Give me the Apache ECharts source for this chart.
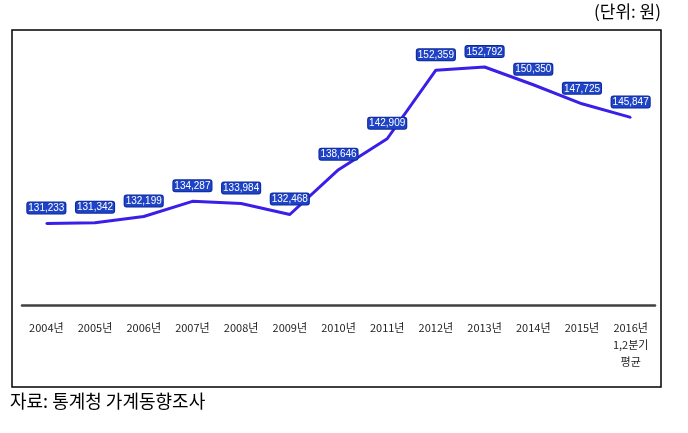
<!DOCTYPE html>
<html>
<head>
<meta charset="utf-8">
<script src="https://cdn.jsdelivr.net/npm/echarts@6/dist/echarts.min.js"></script>
<style>
  html, body { margin: 0; padding: 0; background: #fff; }
  #chart { width: 688px; height: 433px; }
</style>
</head>
<body>
<div id="chart"></div>
<script>
const years = ['2004년', '2005년', '2006년', '2007년', '2008년', '2009년', '2010년',
  '2011년', '2012년', '2013년', '2014년', '2015년', '2016년\n1,2분기\n평균']
const spending = [131233, 131342, 132199, 134287, 133984, 132468, 138646,
  142909, 152359, 152792, 150350, 147725, 145847]

const chart = echarts.init(document.getElementById('chart'))

chart.setOption({
  animation: false,
  backgroundColor: '#fff',
  grid: { left: 22, right: 33, top: 51, bottom: 128 },
  graphic: [
    {
      type: 'rect',
      shape: { x: 12, y: 30, width: 649, height: 357 },
      style: { fill: 'none', stroke: '#000', lineWidth: 1.5 }
    },
    {
      type: 'text',
      right: 27, top: 3,
      style: { text: '(단위: 원)', font: '17px "Noto Sans CJK KR"', fill: '#000' }
    },
    {
      type: 'text',
      left: 10, top: 392,
      style: { text: '자료: 통계청 가계동향조사', font: '18px "Noto Sans CJK KR"', fill: '#000' }
    }
  ],
  xAxis: {
    type: 'category',
    data: years,
    axisLine: { lineStyle: { color: '#404040', width: 2.5 } },
    axisTick: { show: false },
    axisLabel: {
      margin: 14,
      fontSize: 11,
      lineHeight: 17,
      color: '#222',
      fontFamily: '"Noto Sans CJK KR"',
      verticalAlign: 'top'
    }
  },
  yAxis: {
    type: 'value',
    min: 120000,
    max: 155000,
    show: false,
    splitLine: { show: false }
  },
  series: [{
    type: 'line',
    data: spending,
    symbol: 'circle',
    symbolSize: 2,
    itemStyle: { color: '#3a1fe8' },
    lineStyle: { color: '#3a1fe8', width: 3 },
    label: {
      show: true,
      position: 'top',
      distance: 9,
      formatter: p => p.value.toLocaleString('en-US'),
      color: '#fff',
      fontSize: 10,
      fontFamily: 'Liberation Sans',
      backgroundColor: '#1f43c6',
      borderColor: '#0d2a9a',
      borderWidth: 1,
      borderRadius: 2,
      padding: [1, 1, 0, 1]
    }
  }]
})
</script>
</body>
</html>
